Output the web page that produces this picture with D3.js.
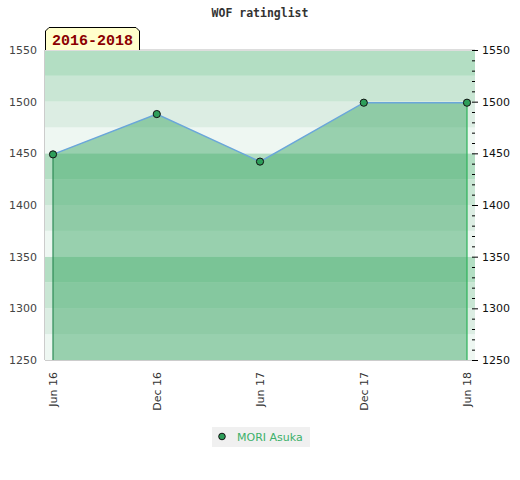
<!DOCTYPE html>
<html>
<head>
<meta charset="utf-8">
<script src="https://cdn.jsdelivr.net/npm/d3@7"></script>
<style>
  body { margin: 0; background: #fff; }
  svg { display: block; }
</style>
</head>
<body>
<svg width="520" height="480"></svg>
<script>
// data
const dates = ["2016-06-01", "2016-12-01", "2017-06-01", "2017-12-01", "2018-06-01"]
const ratings = [1449, 1488, 1442, 1499, 1499]
const yTicks = [1250, 1300, 1350, 1400, 1450, 1500, 1550]
const bandColors = ["#b3dec3", "#c9e6d4", "#dcede3", "#eef7f2"]
const playerName = "MORI Asuka"
const period = "2016-2018"
const chartTitle = "WOF ratinglist"

const parse = d3.timeParse("%Y-%m-%d")
const points = dates.map((d, i) => ({ date: parse(d), rating: ratings[i] }))

// layout
const PLOT = { left: 45, right: 475, top: 50, bottom: 360 }

const x = d3.scaleTime()
    .domain(d3.extent(points, d => d.date))
    .range([53, 467])
const y = d3.scaleLinear()
    .domain([1250, 1550])
    .range([PLOT.bottom, PLOT.top])

const svg = d3.select('svg')

// title
svg.append('text')
    .attr('x', 260).attr('y', 17)
    .attr('text-anchor', 'middle')
    .attr('font-family', 'DejaVu Sans Mono')
    .attr('font-weight', 'bold')
    .attr('font-size', 11.5)
    .attr('fill', '#333')
    .text(chartTitle)

// striped background, 25 point bands
const bands = d3.range(1250, 1550, 25)
svg.append('g').selectAll('rect')
    .data(bands)
    .enter()
    .append('rect')
    .attr('x', PLOT.left)
    .attr('width', PLOT.right - PLOT.left)
    .attr('y', d => y(d + 25))
    .attr('height', d => y(d) - y(d + 25))
    .attr('fill', d => bandColors[((1550 - (d + 25)) / 25) % 4])

// plot frame
svg.append('line')
    .attr('x1', PLOT.left).attr('x2', PLOT.right)
    .attr('y1', PLOT.top).attr('y2', PLOT.top)
    .attr('stroke', '#ddd').attr('stroke-width', 2)
svg.append('line')
    .attr('x1', PLOT.left).attr('x2', PLOT.right)
    .attr('y1', PLOT.bottom + 0.5).attr('y2', PLOT.bottom + 0.5)
    .attr('stroke', '#ccc')
svg.append('line')
    .attr('x1', PLOT.left - 0.5).attr('x2', PLOT.left - 0.5)
    .attr('y1', PLOT.top).attr('y2', PLOT.bottom)
    .attr('stroke', '#ccc')

// area under the line
const area = d3.area()
    .x(d => x(d.date))
    .y0(y(1250))
    .y1(d => y(d.rating))
svg.append('path')
    .datum(points)
    .attr('d', area)
    .attr('fill', 'rgba(65,170,105,0.5)')

// edges of the area
const first = points[0], last = points[points.length - 1]
svg.append('line')
    .attr('x1', x(first.date)).attr('x2', x(first.date))
    .attr('y1', y(first.rating)).attr('y2', y(1250))
    .attr('stroke', '#2e8b57').attr('stroke-width', 1.2)
svg.append('line')
    .attr('x1', x(last.date)).attr('x2', x(last.date))
    .attr('y1', y(last.rating)).attr('y2', y(1250))
    .attr('stroke', '#2db35a').attr('stroke-width', 1.2)

// line
svg.append('path')
    .datum(points)
    .attr('d', d3.line().x(d => x(d.date)).y(d => y(d.rating)))
    .attr('fill', 'none')
    .attr('stroke', '#6aa6da')
    .attr('stroke-width', 1.5)

// markers
svg.append('g').selectAll('circle')
    .data(points)
    .enter()
    .append('circle')
    .attr('cx', d => x(d.date))
    .attr('cy', d => y(d.rating))
    .attr('r', 3.6)
    .attr('fill', '#2e9e5a')
    .attr('stroke', '#111')
    .attr('stroke-width', 1)

// left axis: labels only
const leftAxis = svg.append('g')
    .attr('transform', `translate(${PLOT.left - 8},0)`)
    .call(d3.axisLeft(y).tickValues(yTicks).tickFormat(d3.format('d')).tickSize(0).tickPadding(0))
leftAxis.select('.domain').remove()
leftAxis.selectAll('text')
    .attr('font-family', 'DejaVu Sans')
    .attr('font-size', 11)
    .attr('fill', '#444')

// right axis: minor ticks every 10 inward, major ones crossing out
svg.append('g')
    .attr('transform', `translate(${PLOT.right},0)`)
    .call(d3.axisLeft(y).tickValues(d3.range(1260, 1550, 10).filter(v => v % 50 != 0)).tickSize(3).tickFormat(''))
    .call(g => g.select('.domain').remove())
    .selectAll('line').attr('stroke', '#000')
const rightAxis = svg.append('g')
    .attr('transform', `translate(${PLOT.right - 3},0)`)
    .call(d3.axisRight(y).tickValues(yTicks).tickFormat(d3.format('d')).tickSize(6).tickPadding(4))
rightAxis.select('.domain').remove()
rightAxis.selectAll('line').attr('stroke', '#000')
rightAxis.selectAll('text')
    .attr('font-family', 'DejaVu Sans')
    .attr('font-size', 11)
    .attr('fill', '#111')

// x axis, rotated labels
const xAxis = svg.append('g')
    .attr('transform', `translate(0,${PLOT.bottom})`)
    .call(d3.axisBottom(x).tickValues(points.map(d => d.date)).tickFormat(d3.timeFormat('%b %y')).tickSize(0))
xAxis.select('.domain').remove()
xAxis.selectAll('text')
    .attr('font-family', 'DejaVu Sans')
    .attr('font-size', 11)
    .attr('fill', '#333')
    .attr('text-anchor', 'end')
    .attr('transform', 'rotate(-90)')
    .attr('x', -12)
    .attr('y', 0)
    .attr('dy', '0.35em')

// period label with cut top corners
const lb = { x: 45, y: 27, w: 95, h: 23, c: 4 }
svg.append('path')
    .attr('d', `M${lb.x + 0.5},${lb.y + lb.h} L${lb.x + 0.5},${lb.y + lb.c} L${lb.x + lb.c},${lb.y + 0.5}
        L${lb.x + lb.w - lb.c},${lb.y + 0.5} L${lb.x + lb.w - 0.5},${lb.y + lb.c} L${lb.x + lb.w - 0.5},${lb.y + lb.h}`)
    .attr('fill', '#ffffcc')
    .attr('stroke', '#000')
svg.append('text')
    .attr('x', lb.x + lb.w / 2).attr('y', 45)
    .attr('text-anchor', 'middle')
    .attr('font-family', 'Liberation Mono')
    .attr('font-weight', 'bold')
    .attr('font-size', 15)
    .attr('fill', '#8b0000')
    .text(period)

// legend
const legend = svg.append('g').attr('transform', 'translate(212,427)')
legend.append('rect')
    .attr('width', 98).attr('height', 20)
    .attr('fill', '#f0f0f0')
legend.append('circle')
    .attr('cx', 10).attr('cy', 9.5).attr('r', 3.3)
    .attr('fill', '#2e9e5a').attr('stroke', '#111')
legend.append('text')
    .attr('x', 25).attr('y', 13.5)
    .attr('font-family', 'DejaVu Sans')
    .attr('font-size', 11)
    .attr('fill', '#3cb06a')
    .text(playerName)
</script>
</body>
</html>
